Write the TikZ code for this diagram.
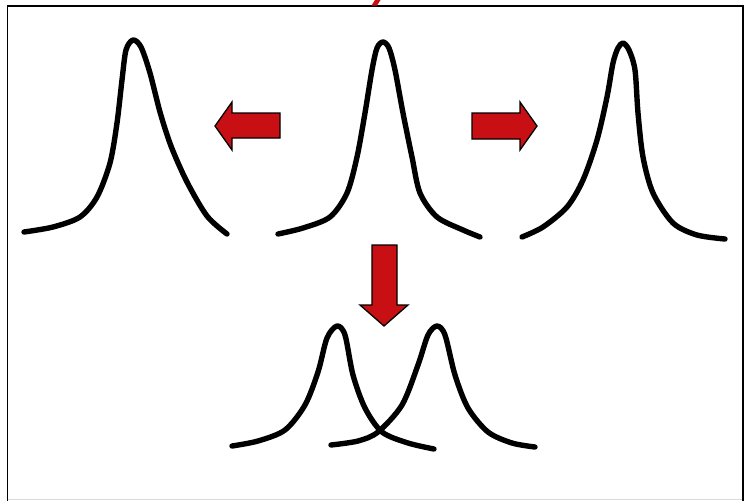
\documentclass[tikz,border=0pt]{standalone}
\usepackage{tikz}
\usetikzlibrary{positioning}
\definecolor{arrowred}{HTML}{C80F14}
\definecolor{framegray}{HTML}{D9D9D9}
\begin{document}
\begin{tikzpicture}[x=0.03cm,y=-0.03cm,
  peak/.style={line width=4.6pt,line cap=round,line join=round,draw=black},
  bigarrow/.style={fill=arrowred,draw=black,line width=1.1pt,line join=miter},
  frameline/.style={line width=1.7pt,draw=black}]
  \useasboundingbox (0,0) rectangle (744,501);
  \draw[framegray,line width=0.8pt] (7.5,499.5) -- (742.5,499.5);
  \draw[frameline] (7.5,501) -- (7.5,6) -- (742.5,6) -- (742.5,501);
  \fill[arrowred] (375,0) -- (380.5,0) -- (377,5.5) -- (371.5,5.5) -- cycle;
  \draw[peak] plot[smooth] coordinates {(24,232) (53,227) (80,217) (97,197) (110,163) (117,123) (122,80) (126,50) (133,40) (141,47) (150,73) (160,112) (171,146) (187,182) (207,216) (227,234)};
  \draw[peak] plot[smooth] coordinates {(278,234) (303,228) (330,217) (347,193) (357,157) (365,113) (372,70) (377,48) (383,42) (389,48) (395,70) (403,113) (412,157) (420,193) (437,217) (463,230) (480,237)};
  \draw[peak] plot[smooth] coordinates {(522,237) (543,227) (567,207) (583,180) (597,140) (607,97) (613,63) (618,48) (623,43) (629,50) (635,70) (638,113) (643,157) (653,193) (673,223) (697,235) (725,239)};
  \draw[peak] plot[smooth] coordinates {(232,446) (258,441) (285,430) (305,405) (318,372) (327,338) (337,326) (345,335) (353,375) (365,408) (382,432) (408,443) (434,449)};
  \draw[peak] plot[smooth] coordinates {(331,445) (358,441) (378,432) (402,405) (418,365) (428,335) (437,326) (445,335) (455,375) (468,408) (488,432) (512,443) (535,447)};
  \draw[bigarrow] (280,113) -- (232,113) -- (232,102) -- (215,126) -- (232,150) -- (232,138) -- (280,138) -- cycle;
  \draw[bigarrow] (472,113) -- (520,113) -- (520,102) -- (537,126) -- (520,150) -- (520,139) -- (472,139) -- cycle;
  \draw[bigarrow] (372,245) -- (397,245) -- (397,305) -- (408,305) -- (384,326) -- (360,305) -- (372,305) -- cycle;
\end{tikzpicture}
\end{document}
